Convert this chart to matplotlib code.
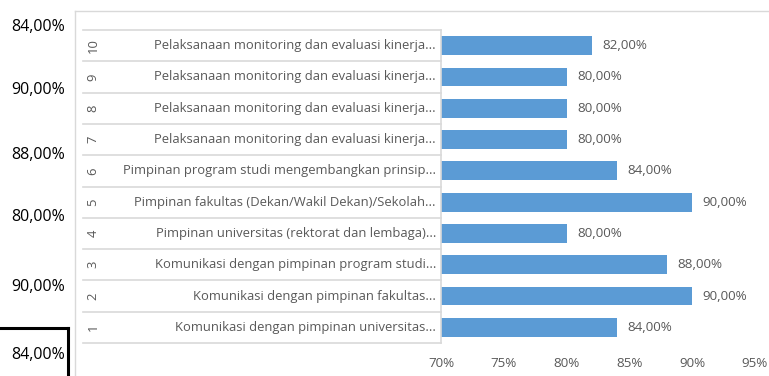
import matplotlib.pyplot as plt
import matplotlib.transforms as transforms
from matplotlib.lines import Line2D

# data
nomor = ['1', '2', '3', '4', '5', '6', '7', '8', '9', '10']
label = ['Komunikasi dengan pimpinan universitas...',
         'Komunikasi dengan pimpinan fakultas...',
         'Komunikasi dengan pimpinan program studi...',
         'Pimpinan universitas (rektorat dan lembaga)...',
         'Pimpinan fakultas (Dekan/Wakil Dekan)/Sekolah...',
         'Pimpinan program studi mengembangkan prinsip...',
         'Pelaksanaan monitoring dan evaluasi kinerja...',
         'Pelaksanaan monitoring dan evaluasi kinerja...',
         'Pelaksanaan monitoring dan evaluasi kinerja...',
         'Pelaksanaan monitoring dan evaluasi kinerja...']
nilai = [0.84, 0.90, 0.88, 0.80, 0.90, 0.84, 0.80, 0.80, 0.80, 0.82]

# isi sel di sebelah kiri grafik
sel_kiri = ['84,00%', '90,00%', '88,00%', '80,00%', '90,00%', '84,00%']
sel_kiri_y = [27, 90, 155, 217, 287, 355]

x_ticks = [0.70, 0.75, 0.80, 0.85, 0.90, 0.95]

W, H = 769, 376
plt.rcParams['font.family'] = ['Open Sans', 'DejaVu Sans']

fig = plt.figure(figsize=(W / 100, H / 100), dpi=100)
fig.patch.set_facecolor('white')

# area plot (pixel -> figure coords)
px_l, px_r, px_t, px_b = 441, 755, 30, 343
ax = fig.add_axes([px_l / W, 1 - px_b / H, (px_r - px_l) / W, (px_b - px_t) / H])

y = list(range(len(nilai)))
ax.barh(y, nilai, height=0.6, color='#5b9bd5', left=0)
ax.set_xlim(0.70, 0.95)
ax.set_ylim(-0.5, len(nilai) - 0.5)

for yi, v in zip(y, nilai):
    ax.annotate('{:.2f}%'.format(v * 100).replace('.', ','), (v, yi),
                xytext=(7.5, 0), textcoords='offset points',
                va='center', ha='left', fontsize=9.6, color='#595959')

ax.set_xticks(x_ticks)
ax.set_xticklabels(['{:.0f}%'.format(t * 100) for t in x_ticks], fontsize=9.6, color='#595959')
ax.tick_params(axis='x', length=0, pad=10)
ax.set_yticks([])
for s in ['top', 'right', 'bottom']:
    ax.spines[s].set_visible(False)
ax.spines['left'].set_color('#d9d9d9')
ax.spines['left'].set_linewidth(1.2)

# label kategori bertingkat
trans = transforms.blended_transform_factory(ax.transAxes, ax.transData)
x_lbl = (436 - px_l) / (px_r - px_l)
x_no = (93 - px_l) / (px_r - px_l)
x_line = (83 - px_l) / (px_r - px_l)
for yi, n, t in zip(y, nomor, label):
    ax.text(x_lbl, yi, t, transform=trans, ha='right', va='center',
            fontsize=9.4, color='#595959')
    ax.text(x_no, yi, n, transform=trans, ha='center', va='center',
            fontsize=9.4, color='#595959', rotation=90)
for b in [yi - 0.5 for yi in y] + [len(y) - 0.5]:
    ax.plot([x_line, 0], [b, b], transform=trans, color='#d9d9d9',
            lw=1.2, clip_on=False)

# bingkai grafik
fig.add_artist(Line2D([75 / W, 1], [1 - 11 / H, 1 - 11 / H], color='#d9d9d9', lw=1))
fig.add_artist(Line2D([75 / W, 75 / W], [0, 1 - 11 / H], color='#d9d9d9', lw=1))

# sel kiri
for t, yy in zip(sel_kiri, sel_kiri_y):
    fig.text(65 / W, 1 - yy / H, t, ha='right', va='center', fontsize=11.5, color='black')
fig.add_artist(Line2D([0, 68 / W], [1 - 328 / H, 1 - 328 / H], color='black', lw=2.2))
fig.add_artist(Line2D([68 / W, 68 / W], [0, 1 - 328 / H], color='black', lw=2.2))

plt.savefig('out.png', dpi=100)
